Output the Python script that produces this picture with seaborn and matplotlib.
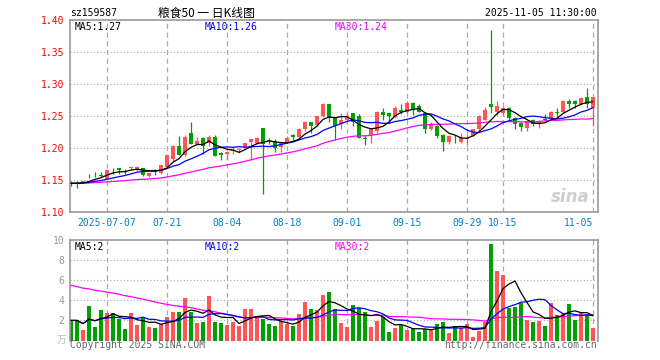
import numpy as np
import pandas as pd
import seaborn as sns
import matplotlib.pyplot as plt

# trading days 2025-06-27 .. 2025-11-05 (national day holiday removed)
dates = pd.bdate_range('2025-06-27', '2025-11-05', freq='C',
                       holidays=pd.date_range('2025-10-01', '2025-10-08'))

opens = [1.146, 1.146, 1.146, 1.157, 1.163, 1.158, 1.152, 1.166, 1.168, 1.164,
         1.169, 1.165, 1.169, 1.156, 1.164, 1.161, 1.171, 1.183, 1.203, 1.189,
         1.224, 1.207, 1.216, 1.208, 1.217, 1.192, 1.190, 1.195, 1.197, 1.201,
         1.209, 1.208, 1.232, 1.213, 1.211, 1.202, 1.209, 1.221, 1.217, 1.230,
         1.240, 1.236, 1.250, 1.268, 1.248, 1.237, 1.243, 1.254, 1.250, 1.216,
         1.221, 1.227, 1.257, 1.254, 1.248, 1.259, 1.257, 1.271, 1.266, 1.255,
         1.229, 1.235, 1.221, 1.210, 1.216, 1.209, 1.214, 1.219, 1.229, 1.244,
         1.269, 1.256, 1.255, 1.263, 1.247, 1.239, 1.231, 1.244, 1.238, 1.246,
         1.246, 1.256, 1.256, 1.274, 1.274, 1.268, 1.279, 1.262]
highs = [1.148, 1.148, 1.149, 1.160, 1.163, 1.163, 1.165, 1.168, 1.169, 1.167,
         1.172, 1.172, 1.169, 1.161, 1.167, 1.174, 1.190, 1.205, 1.218, 1.220,
         1.241, 1.217, 1.217, 1.221, 1.221, 1.193, 1.195, 1.202, 1.200, 1.208,
         1.214, 1.217, 1.232, 1.216, 1.214, 1.208, 1.218, 1.222, 1.231, 1.242,
         1.241, 1.250, 1.270, 1.268, 1.249, 1.255, 1.255, 1.255, 1.253, 1.221,
         1.230, 1.258, 1.262, 1.254, 1.265, 1.269, 1.274, 1.272, 1.268, 1.256,
         1.240, 1.236, 1.222, 1.220, 1.221, 1.223, 1.222, 1.230, 1.252, 1.264,
         1.384, 1.274, 1.264, 1.264, 1.248, 1.240, 1.243, 1.245, 1.243, 1.253,
         1.258, 1.263, 1.275, 1.277, 1.275, 1.279, 1.293, 1.280]
lows = [1.141, 1.137, 1.145, 1.153, 1.154, 1.155, 1.151, 1.160, 1.159, 1.159,
        1.165, 1.164, 1.156, 1.155, 1.158, 1.160, 1.169, 1.180, 1.189, 1.187,
        1.206, 1.206, 1.190, 1.203, 1.187, 1.182, 1.181, 1.191, 1.192, 1.200,
        1.183, 1.207, 1.128, 1.206, 1.193, 1.193, 1.208, 1.212, 1.216, 1.227,
        1.223, 1.234, 1.249, 1.241, 1.213, 1.230, 1.239, 1.234, 1.215, 1.204,
        1.208, 1.223, 1.243, 1.239, 1.247, 1.253, 1.255, 1.252, 1.256, 1.223,
        1.228, 1.215, 1.195, 1.207, 1.208, 1.208, 1.204, 1.218, 1.226, 1.243,
        1.255, 1.252, 1.250, 1.243, 1.230, 1.226, 1.226, 1.234, 1.231, 1.242,
        1.245, 1.248, 1.255, 1.263, 1.263, 1.267, 1.263, 1.235]
closes = [1.144, 1.145, 1.148, 1.156, 1.162, 1.157, 1.165, 1.165, 1.165, 1.163,
          1.170, 1.171, 1.158, 1.161, 1.163, 1.173, 1.189, 1.203, 1.189, 1.217,
          1.207, 1.211, 1.203, 1.217, 1.187, 1.189, 1.194, 1.197, 1.199, 1.208,
          1.214, 1.216, 1.207, 1.211, 1.200, 1.208, 1.215, 1.217, 1.229, 1.240,
          1.235, 1.250, 1.269, 1.248, 1.235, 1.243, 1.250, 1.240, 1.216, 1.214,
          1.230, 1.257, 1.252, 1.250, 1.262, 1.257, 1.271, 1.261, 1.257, 1.229,
          1.238, 1.219, 1.210, 1.219, 1.215, 1.216, 1.216, 1.229, 1.250, 1.260,
          1.264, 1.265, 1.263, 1.247, 1.237, 1.233, 1.242, 1.237, 1.242, 1.243,
          1.256, 1.254, 1.274, 1.268, 1.268, 1.278, 1.268, 1.279]
# volume in 万
volumes = [2.0, 2.0, 1.05, 3.45, 1.35, 3.05, 2.75, 2.75, 2.15, 1.15,
           2.75, 1.55, 2.25, 1.35, 1.25, 1.65, 2.35, 2.85, 2.85, 4.25,
           2.85, 1.75, 1.85, 4.45, 1.85, 1.75, 1.55, 1.85, 1.45, 3.15,
           3.15, 2.35, 2.15, 1.65, 1.45, 1.95, 1.65, 1.45, 2.65, 3.85,
           3.15, 3.05, 4.55, 4.85, 3.15, 1.75, 1.35, 3.55, 3.25, 2.85,
           1.35, 1.95, 2.35, 0.85, 1.25, 1.55, 1.05, 1.15, 0.85, 1.15,
           1.15, 1.65, 1.85, 0.75, 1.45, 1.25, 1.65, 0.35, 0.95, 1.85,
           9.6, 6.9, 6.5, 3.25, 3.35, 3.75, 2.05, 1.85, 1.95, 1.45,
           3.75, 2.55, 2.75, 3.65, 2.05, 2.85, 2.55, 1.25]

close_before = 1.145
vol_before = 5.6

tick_dates = ['2025-07-07', '2025-07-21', '2025-08-04', '2025-08-18', '2025-09-01',
              '2025-09-15', '2025-09-29', '2025-10-15', '2025-11-05']
tick_labels = ['2025-07-07', '07-21', '08-04', '08-18', '09-01',
               '09-15', '09-29', '10-15', '11-05']

RED = '#ff5555'
GREEN = '#00a000'
GRID = '#aaaaaa'
FRAME = '#999999'

sns.set_style('white')
plt.rcParams['font.family'] = ['DejaVu Sans Mono', 'Noto Sans CJK SC']

o = np.array(opens)
h = np.array(highs)
l = np.array(lows)
c = np.array(closes)
v = np.array(volumes)
x = np.arange(len(c))
cols = np.where(c >= o, RED, GREEN)

def padded_ma(vals, n, before):
    s = pd.Series([before] * 29 + list(vals))
    return s.rolling(n).mean().to_numpy()[29:]

def trunc2(val):
    return '%.2f' % (np.floor(val * 100 + 1e-9) / 100)

ma5 = padded_ma(c, 5, close_before)
ma10 = padded_ma(c, 10, close_before)
ma30 = padded_ma(c, 30, close_before)
vs = pd.Series(v)
vma5 = vs.rolling(5, min_periods=1).mean().to_numpy()
vma10 = vs.rolling(10, min_periods=1).mean().to_numpy()
vma30 = padded_ma(v, 30, vol_before)

tick_pos = [int(np.where(dates == pd.Timestamp(d))[0][0]) for d in tick_dates]

W, H = 660, 360
fig = plt.figure(figsize=(6.6, 3.6), dpi=100)
ax = fig.add_axes([70 / W, 1 - 212 / H, 528 / W, 192 / H])
axv = fig.add_axes([70 / W, 1 - 340.5 / H, 528 / W, 100.5 / H])

xlim = (-0.17, 87.83)

# ---- price panel
for yv in [1.15, 1.20, 1.25, 1.30, 1.35]:
    ax.axhline(yv, color=GRID, linestyle=(0, (1, 2)), linewidth=0.8, zorder=0)
for p in tick_pos:
    ax.axvline(p, color=GRID, linestyle=(0, (4, 3)), linewidth=0.9, zorder=0)

ax.vlines(x, l, h, colors=cols, linewidth=0.9, zorder=2)
ax.bar(x, np.maximum(np.abs(c - o), 0.0008), bottom=np.minimum(o, c),
       width=0.8, color=cols, linewidth=0, zorder=3)

sns.lineplot(x=x, y=ma30, ax=ax, color='#ff00ff', linewidth=0.9, zorder=4)
sns.lineplot(x=x, y=ma10, ax=ax, color='#0000ff', linewidth=0.9, zorder=4)
sns.lineplot(x=x, y=ma5, ax=ax, color='black', linewidth=0.9, zorder=4)

ax.set_xlim(*xlim)
ax.set_ylim(1.10, 1.40)
yt = [1.10, 1.15, 1.20, 1.25, 1.30, 1.35, 1.40]
ax.set_yticks(yt)
ax.set_yticklabels(['%.2f' % t for t in yt], color='red', fontsize=7)
ax.set_xticks(tick_pos)
ax.set_xticklabels(tick_labels, color='#0080cc', fontsize=7)
ax.get_xticklabels()[-1].set_ha('right')
ax.tick_params(length=0, pad=4)
ax.set_xlabel('')
ax.set_ylabel('')
for s in ax.spines.values():
    s.set_color(FRAME)
    s.set_linewidth(1.2)

ax.text(4.5 / 528, 1 - 7 / 192, 'MA5:' + trunc2(ma5[-1]), transform=ax.transAxes,
        color='black', fontsize=7, va='center')
ax.text(135 / 528, 1 - 7 / 192, 'MA10:' + trunc2(ma10[-1]), transform=ax.transAxes,
        color='#0000ff', fontsize=7, va='center')
ax.text(265 / 528, 1 - 7 / 192, 'MA30:' + trunc2(ma30[-1]), transform=ax.transAxes,
        color='#ff00ff', fontsize=7, va='center')
ax.text(0.985, 0.08, 'sina', transform=ax.transAxes, ha='right', va='center',
        fontsize=12, fontstyle='italic', fontweight='bold', color='#cfcfcf',
        family='DejaVu Sans', zorder=1)

# ---- volume panel
for yv in [2, 4, 6, 8]:
    axv.axhline(yv, color=GRID, linestyle=(0, (1, 2)), linewidth=0.8, zorder=0)
for p in tick_pos:
    axv.axvline(p, color=GRID, linestyle=(0, (4, 3)), linewidth=0.9, zorder=0)

axv.bar(x, v, width=0.8, color=cols, linewidth=0, zorder=2)
sns.lineplot(x=x, y=vma30, ax=axv, color='#ff00ff', linewidth=0.9, zorder=4)
sns.lineplot(x=x, y=vma10, ax=axv, color='#0000ff', linewidth=0.9, zorder=4)
sns.lineplot(x=x, y=vma5, ax=axv, color='black', linewidth=0.9, zorder=4)

axv.set_xlim(*xlim)
axv.set_ylim(0, 10)
axv.set_yticks([2, 4, 6, 8, 10])
axv.set_yticklabels(['2', '4', '6', '8', '10'], color=FRAME, fontsize=7)
axv.set_xticks([])
axv.tick_params(length=0, pad=4)
axv.set_xlabel('')
axv.set_ylabel('')
for s in axv.spines.values():
    s.set_color(FRAME)
    s.set_linewidth(1.2)
axv.spines['bottom'].set_visible(False)

axv.text(4.5 / 528, 1 - 7 / 100.5, 'MA5:%d' % int(vma5[-1]), transform=axv.transAxes,
         color='black', fontsize=7, va='center')
axv.text(135 / 528, 1 - 7 / 100.5, 'MA10:%d' % int(vma10[-1]), transform=axv.transAxes,
         color='#0000ff', fontsize=7, va='center')
axv.text(265 / 528, 1 - 7 / 100.5, 'MA30:%d' % int(vma30[-1]), transform=axv.transAxes,
         color='#ff00ff', fontsize=7, va='center')

# ---- header / footer
fig.text(70 / W, 1 - 13 / H, 'sz159587', fontsize=7, va='center', color='black')
fig.text(206 / W, 1 - 13 / H, '粮食50 一 日K线图', fontsize=8.5, va='center',
         ha='center', color='black', family=['Noto Sans CJK SC', 'DejaVu Sans'])
fig.text(597 / W, 1 - 13 / H, '2025-11-05 11:30:00', fontsize=7, va='center',
         ha='right', color='black')
fig.text(66 / W, 1 - 340 / H, '万', fontsize=7, va='center', ha='right',
         color='#bbbbbb', family=['Noto Sans CJK SC', 'DejaVu Sans'])
fig.text(70 / W, 1 - 345.5 / H, 'Copyright 2025 SINA.COM', fontsize=7,
         va='center', color='#666666')
fig.text(597 / W, 1 - 345.5 / H, 'http://finance.sina.com.cn', fontsize=7,
         va='center', ha='right', color='#666666')

fig.savefig('out.png', dpi=100, facecolor='white')
